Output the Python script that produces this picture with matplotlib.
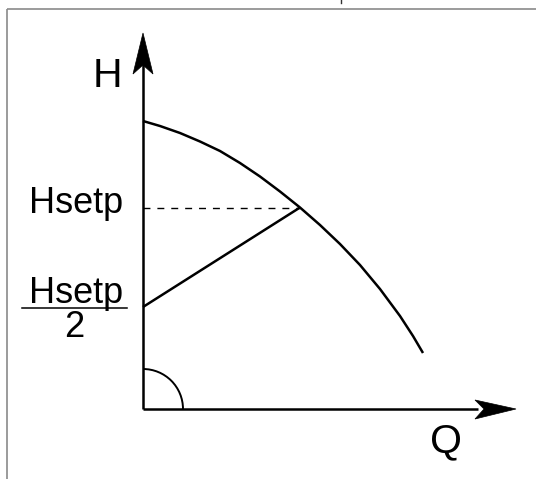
import numpy as np
import matplotlib
matplotlib.use('Agg')
import matplotlib.pyplot as plt
from matplotlib.patches import Arc, Polygon

plt.rcParams['font.family'] = ['Liberation Sans', 'DejaVu Sans']

# pump curve (Q, H in pixel units from the origin)
curve_q = [0, 17, 37, 57, 77, 97, 117, 137, 157, 177, 197, 217, 237, 257, 270, 280]
curve_h = [288, 283, 276, 267.5, 258, 246, 232.5, 217.5, 201.5, 184, 165, 144, 120, 93, 73, 56]

h_setp = 201.5      # set point head
q_setp = 157        # flow at set point
h_half = 102        # Hsetp / 2 at zero flow

x_label = 'Q'
y_label = 'H'
setp_label = 'Hsetp'
half_den = '2'

fig = plt.figure(figsize=(5.36, 4.79), dpi=100, facecolor='white')
ax = fig.add_axes([0, 0, 1, 1])
ax.set_xlim(-143, 393)
ax.set_ylim(-70, 409)
ax.axis('off')

# frame (cropped box)
ax.plot([-136, 393], [400.5, 400.5], color='#8a8a8a', lw=1.2, solid_capstyle='butt')
ax.plot([-136, -136], [400.5, -70], color='#8a8a8a', lw=1.2, solid_capstyle='butt')
ax.plot([198, 198], [409, 406], color='#333333', lw=1.0)

lw = 1.8
# axes with arrowheads
ax.plot([0, 0], [0, 350], color='black', lw=lw, solid_capstyle='butt')
ax.plot([0, 335], [0, 0], color='black', lw=lw, solid_capstyle='butt')
ax.add_patch(Polygon([(0, 376), (-10, 335), (0, 344), (10, 335)], closed=True,
                     facecolor='black', edgecolor='black', lw=0.5))
ax.add_patch(Polygon([(373, 0), (332, 9), (341, 0), (332, -10)], closed=True,
                     facecolor='black', edgecolor='black', lw=0.5))

# pump curve
ax.plot(curve_q, curve_h, color='black', lw=lw, solid_capstyle='butt',
        solid_joinstyle='round')

# set point guides
ax.plot([0, q_setp], [h_setp, h_setp], color='black', lw=1.0, linestyle=(0, (5, 5)))
ax.plot([0, q_setp], [h_half, h_setp], color='black', lw=lw, solid_capstyle='butt')

# right angle arc
ax.add_patch(Arc((0, 0), 80, 80, theta1=0, theta2=90, color='black', lw=1.4))

# labels
ax.text(-35.5, 322, y_label, fontsize=29.5, ha='center', va='baseline')
ax.text(302.5, -43, x_label, fontsize=29.5, ha='center', va='baseline')
ax.text(-67, 195.7, setp_label, fontsize=26, ha='center', va='baseline')
ax.text(-67, 105.7, setp_label, fontsize=26, ha='center', va='baseline')
ax.plot([-120.7, -16.3], [101.3, 101.3], color='black', lw=1.1)
ax.text(-69, 72.3, half_den, fontsize=26, ha='center', va='baseline')

fig.savefig('out.png', dpi=100, facecolor='white')
